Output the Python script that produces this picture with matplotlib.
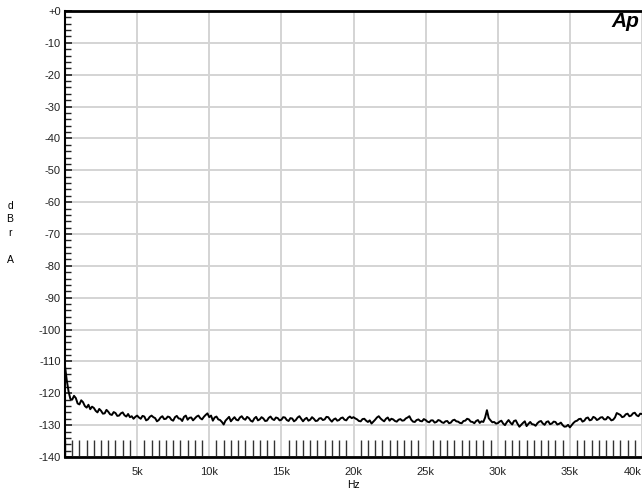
import numpy as np
import matplotlib.pyplot as plt
from matplotlib.ticker import MultipleLocator

plt.rcParams['font.family'] = ['Liberation Sans', 'DejaVu Sans']

# measurement grid, 125 Hz steps
freq_hz = np.arange(0, 40001, 125)

level_dbr = [
    # 0 - 5k
    -111.5, -116.0, -119.5, -121.8, -122.0, -120.8, -121.5, -123.2, -123.5, -122.2,
    -122.8, -124.0, -124.5, -123.6, -125.0, -124.2, -124.6, -125.5, -126.0, -124.9,
    -125.5, -126.4, -126.3, -125.2, -125.8, -126.6, -126.8, -125.9, -126.2, -127.1,
    -127.0, -126.3, -126.0, -126.9, -127.3, -126.5, -127.5, -127.2, -128.0, -127.4,
    # 5k - 10k
    -127.0, -127.6, -128.0, -127.1, -127.3, -128.5, -128.2, -127.4, -127.0, -127.5,
    -127.8, -128.8, -128.4, -127.6, -127.2, -128.1, -128.0, -127.3, -127.5, -128.3,
    -128.6, -127.5, -127.1, -127.9, -128.0, -128.7, -127.4, -127.0, -128.3, -127.7,
    -127.6, -128.5, -127.9, -127.3, -127.0, -127.8, -128.2, -127.4, -126.8, -126.3,
    # 10k - 15k
    -127.5, -127.0, -128.6, -127.6, -127.3, -128.2, -128.4, -129.0, -129.8, -128.6,
    -128.0, -127.4, -128.8, -128.1, -127.5, -128.3, -128.5, -127.6, -127.2, -128.0,
    -128.3, -127.4, -127.8, -128.6, -128.9, -127.9, -127.4, -128.5, -128.2, -127.5,
    -127.9, -128.7, -128.6, -127.7, -127.3, -128.1, -128.4, -127.6, -127.8, -128.5,
    # 15k - 20k
    -128.3, -127.5, -127.6, -128.4, -128.7, -127.8, -127.9, -128.8, -128.4, -127.6,
    -127.2, -128.0, -128.8, -128.1, -127.7, -128.6, -128.3, -127.5, -128.0, -128.7,
    -128.6, -127.9, -127.8, -128.4, -128.2, -127.4, -127.5, -128.3, -128.9, -128.2,
    -127.9, -128.6, -128.4, -127.8, -127.6, -128.3, -128.5, -127.7, -127.3, -127.8,
    # 20k - 25k
    -127.5, -127.9, -128.2, -128.7, -128.8, -128.1, -128.0, -128.6, -129.0, -128.5,
    -129.5, -128.9, -128.3, -127.6, -127.2, -127.9, -128.4, -128.8, -128.0, -127.6,
    -128.6, -128.0, -128.2, -128.7, -128.9, -128.3, -128.1, -128.6, -128.5, -127.9,
    -127.6, -127.2, -128.3, -128.9, -129.0, -128.4, -128.2, -128.7, -128.8, -128.1,
    # 25k - 30k
    -128.4, -128.9, -129.1, -128.5, -128.5, -129.2, -129.0, -128.4, -128.6, -129.1,
    -129.3, -128.8, -128.7, -129.4, -129.2, -128.5, -128.3, -128.8, -128.9, -129.3,
    -129.4, -128.7, -128.6, -128.0, -128.2, -128.9, -129.0, -129.4, -128.7, -128.4,
    -129.3, -128.8, -129.0, -127.6, -125.3, -127.8, -128.5, -129.1, -129.0, -129.5,
    # 30k - 35k
    -129.4, -128.9, -128.6, -129.5, -130.0, -129.1, -128.4, -129.2, -129.8, -128.7,
    -128.5, -129.6, -130.5, -129.9, -129.3, -128.8, -130.3, -129.6, -129.0, -129.7,
    -129.8, -130.2, -129.4, -128.9, -128.7, -129.5, -129.9, -129.0, -128.8, -129.7,
    -129.5, -128.9, -129.0, -129.8, -129.6, -129.2, -130.0, -130.5, -130.4, -129.9,
    # 35k - 40k
    -130.7, -130.0, -129.3, -128.8, -128.6, -128.1, -128.0, -128.9, -128.6, -127.8,
    -127.6, -128.5, -128.3, -127.4, -127.7, -128.4, -128.1, -127.6, -127.5, -128.2,
    -128.2, -127.4, -127.8, -128.5, -128.3, -127.6, -126.2, -126.5, -126.8, -127.5,
    -127.3, -126.6, -126.4, -127.2, -127.0, -126.3, -126.1, -126.9, -127.2, -126.4,
    -126.5,
]

x_ticks = [5000, 10000, 15000, 20000, 25000, 30000, 35000, 40000]
x_labels = ['5k', '10k', '15k', '20k', '25k', '30k', '35k', '40k']
y_ticks = list(range(0, -141, -10))
y_labels = ['+0'] + [str(v) for v in y_ticks[1:]]

W, H = 642, 493
fig = plt.figure(figsize=(W / 100, H / 100), dpi=100)
ax = fig.add_axes([65 / W, 1 - 457 / H, (642 - 65) / W, (457 - 11) / H])

ax.plot(freq_hz, level_dbr, color='black', lw=1.4, zorder=3)

ax.set_xlim(0, 40000)
ax.set_ylim(-140, 0)

ax.set_xticks(x_ticks)
ax.set_xticklabels(x_labels)
ax.xaxis.set_minor_locator(MultipleLocator(500))
ax.set_yticks(y_ticks)
ax.set_yticklabels(y_labels)
ax.yaxis.set_minor_locator(MultipleLocator(2))

ax.grid(True, which='major', color='#d4d4d4', lw=1.4, zorder=0)

ax.tick_params(axis='x', which='major', length=0, pad=7, labelsize=8, colors='#222222')
ax.tick_params(axis='x', which='minor', direction='in', length=12, width=1.0, color='#333333')
ax.tick_params(axis='y', which='major', direction='in', length=5, width=1.2, pad=3, labelsize=8, colors='#222222')
ax.tick_params(axis='y', which='minor', direction='in', length=4, width=1.0, color='#222222')

ax.spines['right'].set_visible(False)
ax.spines['top'].set_linewidth(2.0)
ax.spines['left'].set_linewidth(1.5)
ax.spines['bottom'].set_linewidth(2.0)

# last x label sits against the right edge
ax.get_xticklabels()[-1].set_horizontalalignment('right')

fig.text(10 / W, 1 - 233 / H, 'd\nB\nr\n\nA', ha='center', va='center', fontsize=7.5, linespacing=1.45)
fig.text(353 / W, 1 - 485 / H, 'Hz', ha='center', va='center', fontsize=7.5)
fig.text(639 / W, 1 - 12 / H, 'Ap', ha='right', va='top', fontsize=15, fontweight='bold', fontstyle='italic')

fig.savefig('out.png', dpi=100)
